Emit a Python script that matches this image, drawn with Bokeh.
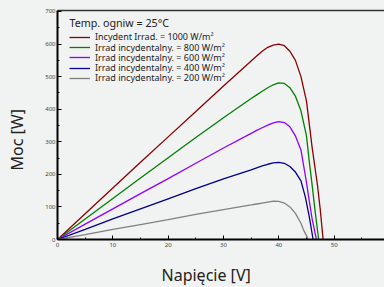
from bokeh.plotting import figure
from bokeh.models import Legend, LegendItem, Range1d, FixedTicker, LinearAxis, Label, Title
from bokeh.embed import file_html
from bokeh.resources import INLINE

# Data
v_1000 = [0, 5, 10, 15, 20, 25, 30, 35, 36, 37, 38, 39, 40, 41, 42, 43, 44, 45, 46, 47, 47.5, 48]
p_1000 = [0, 79, 158, 237, 315, 393, 471, 548, 563, 578, 590, 597, 600, 595, 578, 550, 500, 425, 285, 165, 90, 0]

v_800 = [0, 5, 10, 15, 20, 25, 30, 35, 36, 37, 38, 39, 40, 41, 42, 43, 44, 45, 45.5, 46, 46.5, 47.2]
p_800 = [0, 63, 126, 189, 251, 313, 374, 433, 444, 455, 466, 475, 481, 479, 466, 440, 395, 318, 240, 170, 95, 0]

v_600 = [0, 5, 10, 15, 20, 25, 30, 35, 36, 37, 38, 39, 40, 41, 42, 43, 44, 45, 45.4, 46, 46.8]
p_600 = [0, 47, 94, 141, 187, 234, 281, 326, 335, 343, 351, 358, 362, 359, 346, 318, 275, 175, 130, 65, 0]

v_400 = [0, 5, 10, 15, 20, 25, 30, 35, 36, 37, 38, 39, 40, 41, 42, 43, 44, 44.8, 45.5, 46.2]
p_400 = [0, 31, 63, 94, 125, 156, 186, 214, 220, 226, 231, 235, 237, 234, 224, 207, 180, 130, 70, 0]

v_200 = [0, 5, 10, 15, 20, 25, 30, 35, 36, 37, 38, 39, 40, 41, 42, 43, 44, 44.5, 45, 45.3]
p_200 = [0, 15, 31, 46, 61, 77, 92, 106, 109, 112, 115, 118, 117, 112, 100, 80, 50, 28, 12, 0]

labels = ["Incydent Irrad. = 1000 W/m\u00b2",
          "Irrad incydentalny. = 800 W/m\u00b2",
          "Irrad incydentalny. = 600 W/m\u00b2",
          "Irrad incydentalny. = 400 W/m\u00b2",
          "Irrad incydentalny. = 200 W/m\u00b2"]
colors = ["#8b0000", "#008000", "#8f00ff", "#00008b", "#808080"]
legend_title = "Temp. ogniw = 25\u00b0C"
x_title = "Napi\u0119cie [V]"
y_title = "Moc [W]"
x_ticks = [0, 10, 20, 30, 40, 50]
x_minor = [5, 15, 25, 35, 45, 55]
y_ticks = [0, 100, 200, 300, 400, 500, 600, 700]
y_minor = [50, 150, 250, 350, 450, 550, 650]

BG = "#f1f2f2"
FONT = "Noto Sans"
XMAX, YMAX = 59.1, 703

W, H = 384, 287
B_LEFT, B_TOP, B_BOTTOM = 57, 10, 48
frame_h = H - B_TOP - B_BOTTOM
frame_w = W - B_LEFT

p = figure(width=W, height=H, output_backend="svg", toolbar_location=None,
           x_range=Range1d(0, XMAX), y_range=Range1d(0, YMAX),
           background_fill_color=BG, border_fill_color=BG,
           min_border_left=B_LEFT, min_border_top=B_TOP, min_border_right=0,
           min_border_bottom=B_BOTTOM)
p.outline_line_color = None
p.grid.visible = False

series = [(v_1000, p_1000), (v_800, p_800), (v_600, p_600), (v_400, p_400), (v_200, p_200)]
renderers = []
for (vx, py), c in zip(series, colors):
    renderers.append(p.line(vx, py, line_color=c, line_width=1.3))

# legend: title + one compact row per series (10 px pitch as in the reference)
LEG_X = 12            # px from frame left
TITLE_Y = 12.5        # px from frame top (centre)
ROW0, PITCH, HALF_H = 25.7, 10.25, 7.75
p.add_layout(Label(x=LEG_X * XMAX / frame_w, y=(frame_h - TITLE_Y) * YMAX / frame_h,
                   text=legend_title, text_font=FONT, text_font_size="10.7px",
                   text_color="#222222", text_baseline="middle", text_align="left"))
for i, (r, lab) in enumerate(zip(renderers, labels)):
    bottom_from_frame_bottom = frame_h - (ROW0 + i * PITCH + HALF_H)
    lg = Legend(items=[LegendItem(label=lab, renderers=[r])],
                location=(LEG_X, bottom_from_frame_bottom),
                label_text_font=FONT, label_text_font_size="9px", label_text_color="#222222",
                label_height=10, glyph_height=10, glyph_width=21, spacing=0,
                label_standoff=5, padding=0, margin=0,
                background_fill_alpha=0, border_line_color=None)
    p.add_layout(lg)

for ax in (p.xaxis[0], p.yaxis[0]):
    ax.axis_line_color = "black"
    ax.axis_line_width = 2
    ax.major_tick_in = 4
    ax.major_tick_out = 0
    ax.minor_tick_in = 2
    ax.minor_tick_out = 0
    ax.major_tick_line_color = "black"
    ax.minor_tick_line_color = "black"
    ax.major_label_text_font = FONT
    ax.major_label_text_font_size = "6px"
    ax.major_label_text_color = "#444444"

p.xaxis[0].ticker = FixedTicker(ticks=x_ticks, minor_ticks=x_minor)
p.yaxis[0].ticker = FixedTicker(ticks=y_ticks, minor_ticks=y_minor)
p.xaxis[0].major_label_standoff = 3
p.yaxis[0].major_label_standoff = 2


def spacer(px, tick):
    # invisible axis (one transparent tick, empty label) that only reserves room
    return LinearAxis(ticker=FixedTicker(ticks=[tick]), axis_line_alpha=0,
                      major_tick_line_alpha=0, minor_tick_line_color=None,
                      major_tick_in=0, major_tick_out=px, minor_tick_in=0, minor_tick_out=0,
                      major_label_standoff=0, major_label_overrides={tick: ""},
                      major_label_text_font_size="1px")


# axis titles placed off-centre like the reference
p.add_layout(spacer(11, 10), "below")
p.add_layout(Title(text=x_title, align="left", offset=104, vertical_align="bottom",
                   standoff=2, text_font=FONT, text_font_size="16px",
                   text_font_style="normal", text_color="#222222"), "below")
p.add_layout(spacer(14, 100), "left")
p.add_layout(Title(text=y_title, align="left", offset=69, vertical_align="bottom",
                   standoff=2, text_font=FONT, text_font_size="16px",
                   text_font_style="normal", text_color="#222222"), "left")

# top frame line
top = LinearAxis(ticker=FixedTicker(ticks=[]), axis_line_color="#333333", axis_line_width=1.5,
                 major_tick_line_color=None, minor_tick_line_color=None,
                 major_label_standoff=0, major_tick_out=0, minor_tick_out=0)
p.add_layout(top, "above")

html = file_html(p, INLINE)
html = html.replace("<head>", "<head><style>html,body{background:%s;}</style>" % BG, 1)
open("out.html", "w").write(html)
